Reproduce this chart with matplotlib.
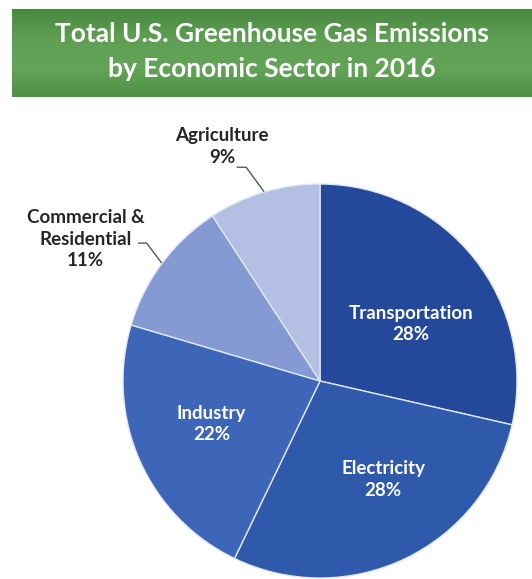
"""Pie chart of U.S. greenhouse gas emissions by economic sector, 2016."""
import numpy as np
from matplotlib import pyplot as plt
from matplotlib.colors import LinearSegmentedColormap

# data
sectors = ["Transportation", "Electricity", "Industry", "Commercial &\nResidential", "Agriculture"]
shares = [28, 28, 22, 11, 9]
colors = ["#24489a", "#2f59ab", "#3e66b8", "#8599d3", "#b3bfe3"]
title = "Total U.S. Greenhouse Gas Emissions\nby Economic Sector in 2016"

plt.rcParams["font.family"] = ["Lato", "DejaVu Sans"]

fig = plt.figure(figsize=(5.32, 5.79), dpi=100)
W, H = 532, 579

# [1] green title banner
ax_banner = fig.add_axes([12 / W, (H - 97) / H, 520 / W, 88 / H])
greens = LinearSegmentedColormap.from_list(
    "banner", ["#47893f", "#5f9f54", "#64a459", "#4e9146"]
)
ax_banner.imshow(
    np.linspace(0, 1, 100).reshape(-1, 1), aspect="auto", cmap=greens,
    extent=(0, 1, 0, 1),
)
ax_banner.set_axis_off()
ax_banner.text(
    0.5, 0.52, title, ha="center", va="center", color="white",
    fontsize=19, fontweight="bold", linespacing=1.55,
    transform=ax_banner.transAxes,
)

# [2] pie, center (320, 381) px, radius 197 px
r_px = 197
ax = fig.add_axes([(320 - r_px) / W, (H - 381 - r_px) / H, 2 * r_px / W, 2 * r_px / H])
wedges, _ = ax.pie(
    shares,
    colors=colors,
    startangle=90,
    counterclock=False,
    radius=1.0,
    wedgeprops={"edgecolor": "#dfe6f4", "linewidth": 1.0},
)
ax.set_xlim(-1, 1)
ax.set_ylim(-1, 1)
ax.set_aspect("equal")

labels = [f"{s}\n{v}%" for s, v in zip(sectors, shares)]

# inner labels (x, y in pie radius units)
inner_xy = {0: (0.46, 0.29), 1: (0.32, -0.50), 2: (-0.55, -0.22)}
for k, (x, y) in inner_xy.items():
    ax.text(x, y, labels[k], ha="center", va="center", color="white",
            fontsize=13.5, fontweight="bold", linespacing=1.3)

# outer labels with leader lines
outer = {
    4: {"text": (-0.497, 1.19), "line": [(-0.42, 1.085), (-0.375, 1.085)]},
    3: {"text": (-1.19, 0.72), "line": [(-0.92, 0.70), (-0.88, 0.70)]},
}
for k, spec in outer.items():
    w = wedges[k]
    mid = np.deg2rad((w.theta1 + w.theta2) / 2)
    edge = (np.cos(mid) * 1.005, np.sin(mid) * 1.005)
    pts = spec["line"] + [edge]
    ax.plot([p[0] for p in pts], [p[1] for p in pts], color="#595959",
            linewidth=1.0, clip_on=False)
    ax.text(*spec["text"], labels[k], ha="center", va="center", color="#262626",
            fontsize=13.5, fontweight="bold", linespacing=1.3)

fig.savefig("out.png", dpi=100)
